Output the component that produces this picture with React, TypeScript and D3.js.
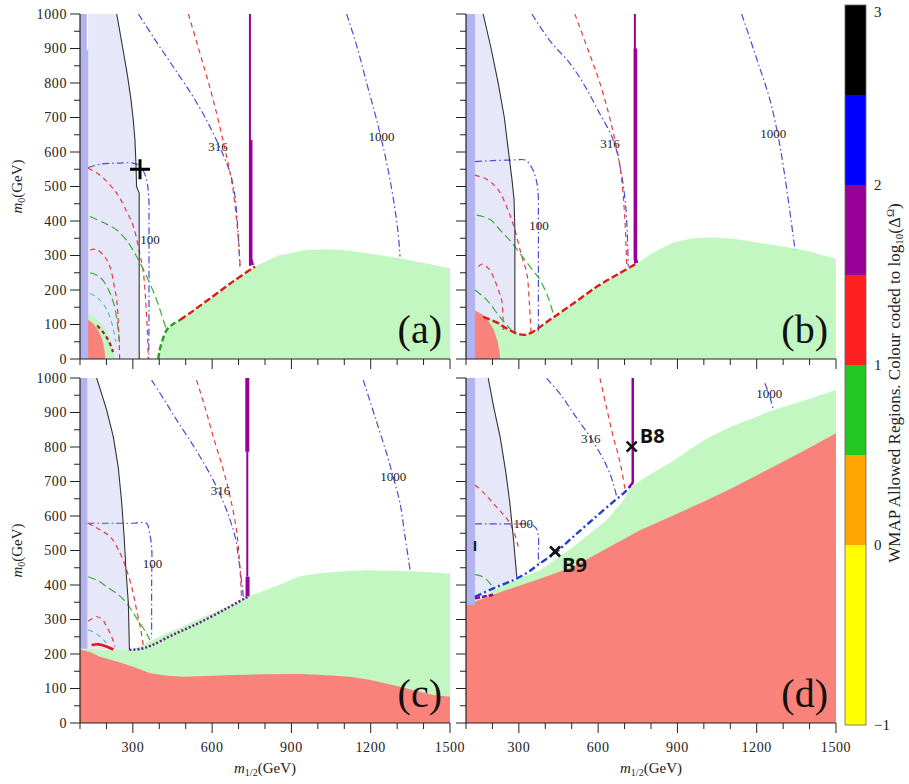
import React from "react";
import * as d3 from "d3";

type Pt = [number, number];

// ---------- axes / ticks ----------
const xDomain: Pt = [100, 1500];
const yDomain: Pt = [0, 1000];
const xTicksMajor = [300, 600, 900, 1200, 1500];
const xTicksMinor = [100, 200, 400, 500, 700, 800, 1000, 1100, 1300, 1400];
const yTicksMajor = [0, 100, 200, 300, 400, 500, 600, 700, 800, 900, 1000];
const yTicksMinor = [50, 150, 250, 350, 450, 550, 650, 750, 850, 950];

// ---------- colour bar ----------
const cbEdges = [-1, 0, 0.5, 1, 1.5, 2, 2.5, 3];
const cbColors = ["#ffff00", "#ffa500", "#22c822", "#ff2020", "#990099", "#0000ff", "#000000"];
const cbTicks = [-1, 0, 1, 2, 3];

// ---------- panel (a) ----------
const aStrip: Pt[] = [[100, 0], [131, 0], [131, 895], [126, 895], [126, 1000], [100, 1000]];
const aBlack: Pt[] = [[239, 1000], [262, 900], [280, 820], [293, 751], [302, 690], [308, 635], [312, 560], [314, 500], [324, 481], [324, 0]];
const aGreen: Pt[] = [[396, 0], [400, 20], [410, 50], [428, 84], [450, 100], [478, 113], [516, 133], [600, 180], [680, 225], [762, 268], [850, 300], [958, 316], [1050, 318], [1122, 314], [1200, 305], [1311, 292], [1400, 278], [1500, 263], [1500, 0]];
const aGreenSmall: Pt[] = [[100, 0], [100, 140], [150, 125], [190, 95], [220, 50], [232, 0]];
const aRed: Pt[] = [[100, 0], [100, 122], [125, 117], [150, 103], [170, 82], [185, 55], [193, 25], [195, 0]];
const aEdgeGreen: Pt[] = [[396, 0], [400, 20], [410, 50], [428, 84], [450, 100], [478, 113]];
const aEdgeRed: Pt[] = [[478, 113], [516, 133], [600, 180], [680, 225], [762, 268]];
const aPurpleThin: Pt[] = [[743, 1000], [743, 270]];
const aPurpleThick: Pt[] = [[746, 635], [746, 290], [752, 272]];
const aC100: Pt[] = [[131, 555], [180, 565], [250, 568], [300, 568], [322, 562], [340, 545], [353, 515], [360, 470], [361, 380], [361, 250], [361, 120], [360, 0]];
const aC316: Pt[] = [[321, 1000], [380, 930], [450, 850], [520, 770], [570, 705], [604, 654], [640, 595], [668, 539], [685, 480], [695, 400], [701, 330], [705, 268]];
const aC1000: Pt[] = [[1109, 1000], [1150, 900], [1185, 799], [1215, 715], [1241, 635], [1268, 540], [1290, 443], [1303, 370], [1311, 297]];
const aR316: Pt[] = [[510, 1000], [560, 870], [604, 751], [645, 620], [675, 510], [693, 400], [702, 320], [706, 268]];
const aRIn: Pt[] = [[131, 553], [180, 530], [239, 480], [275, 430], [302, 384], [325, 310], [340, 248], [350, 150], [356, 60], [358, 0]];
const aGIn: Pt[] = [[138, 413], [190, 395], [239, 374], [280, 340], [314, 297], [355, 235], [390, 171], [410, 125], [428, 84]];
const aRArc: Pt[] = [[138, 316], [160, 318], [190, 300], [213, 268], [230, 210], [239, 171], [246, 90], [250, 0]];
const aGArc: Pt[] = [[138, 250], [175, 238], [205, 205], [228, 160], [242, 100], [250, 40]];
const aCArc: Pt[] = [[138, 190], [170, 175], [200, 145], [222, 100], [235, 50]];
const aDark: Pt[] = [[165, 97], [190, 75], [210, 50], [225, 20]];
const aLabelText = ["100", "316", "1000"];
const aLabelPos: Pt[] = [[365, 345], [622, 615], [1241, 644]];
const aPlus: Pt = [327, 550];

// ---------- panel (b) ----------
const bStrip: Pt[] = [[100, 0], [134, 0], [134, 1000], [100, 1000]];
const bBlack: Pt[] = [[165, 1000], [195, 900], [222, 799], [245, 700], [260, 606], [274, 520], [282, 461], [285, 374], [285, 75]];
const bGreen: Pt[] = [[100, 0], [100, 150], [134, 142], [175, 125], [216, 108], [255, 88], [292, 74], [320, 71], [342, 74], [420, 115], [506, 161], [600, 212], [680, 248], [746, 277], [800, 305], [885, 338], [960, 350], [1049, 352], [1120, 348], [1200, 338], [1300, 326], [1389, 314], [1500, 290], [1500, 0]];
const bRed: Pt[] = [[100, 0], [100, 147], [130, 142], [160, 130], [185, 110], [205, 85], [220, 50], [227, 20], [229, 0]];
const bEdge: Pt[] = [[165, 122], [216, 106], [255, 88], [292, 74], [320, 70], [342, 74], [420, 115], [506, 161], [600, 212], [680, 248], [746, 277]];
const bPurpleThin: Pt[] = [[739, 1000], [739, 277]];
const bPurpleThick: Pt[] = [[741, 900], [741, 290], [746, 278]];
const bC100: Pt[] = [[134, 572], [200, 575], [290, 577], [323, 577], [345, 560], [362, 530], [372, 490], [374, 400], [374, 300], [374, 200], [374, 74]];
const bC316: Pt[] = [[349, 1000], [420, 920], [490, 860], [544, 799], [600, 720], [657, 635], [685, 550], [702, 461], [710, 370], [714, 268]];
const bC1000: Pt[] = [[1143, 1000], [1200, 870], [1250, 751], [1280, 650], [1301, 557], [1325, 430], [1345, 316]];
const bR316: Pt[] = [[512, 1000], [560, 900], [607, 799], [650, 680], [683, 557], [700, 420], [708, 268]];
const bRIn: Pt[] = [[134, 533], [180, 520], [222, 490], [260, 430], [285, 374], [310, 300], [330, 248], [340, 160], [346, 74]];
const bGIn: Pt[] = [[140, 417], [190, 405], [229, 374], [270, 340], [304, 306], [345, 265], [380, 229], [410, 180], [430, 132]];
const bRArc: Pt[] = [[147, 268], [160, 275], [185, 262], [203, 239], [220, 205], [235, 171], [240, 120], [241, 84]];
const bGArc: Pt[] = [[134, 200], [180, 170], [230, 120], [270, 85]];
const bLabelText = ["100", "316", "1000"];
const bLabelPos: Pt[] = [[376, 386], [645, 625], [1263, 654]];

// ---------- panel (c) ----------
const cStrip: Pt[] = [[100, 215], [128, 215], [128, 1000], [100, 1000]];
const cBlack: Pt[] = [[163, 1000], [200, 910], [226, 830], [245, 740], [258, 637], [267, 540], [274, 443], [283, 347], [285, 280], [287, 212]];
const cRed: Pt[] = [[100, 0], [100, 213], [140, 205], [176, 192], [240, 178], [302, 163], [365, 144], [430, 137], [491, 134], [600, 137], [680, 139], [800, 141], [932, 142], [1000, 140], [1122, 134], [1200, 125], [1311, 105], [1400, 88], [1437, 81], [1500, 76], [1500, 0]];
const cGreen: Pt[] = [[100, 0], [100, 215], [200, 212], [302, 214], [360, 235], [428, 260], [490, 280], [554, 303], [650, 335], [737, 367], [800, 385], [869, 405], [930, 425], [996, 433], [1100, 440], [1185, 443], [1280, 441], [1374, 439], [1500, 433], [1500, 0]];
const cPurpleTop: Pt[] = [[733, 1000], [733, 786]];
const cPurpleThin: Pt[] = [[733, 786], [733, 424]];
const cPurpleLow: Pt[] = [[734, 424], [734, 367]];
const cDotted: Pt[] = [[287, 212], [330, 215], [371, 225], [450, 255], [550, 290], [650, 330], [737, 367]];
const cC100: Pt[] = [[128, 579], [200, 579], [300, 579], [352, 579], [362, 555], [371, 511], [371, 400], [371, 300], [371, 247]];
const cC316: Pt[] = [[371, 994], [420, 935], [466, 878], [540, 790], [604, 704], [640, 645], [668, 588], [690, 530], [699, 482], [710, 420], [718, 366]];
const cC1000: Pt[] = [[1172, 994], [1215, 890], [1260, 782], [1290, 700], [1311, 637], [1330, 540], [1349, 443]];
const cR316: Pt[] = [[541, 994], [575, 910], [604, 830], [640, 740], [668, 656], [690, 570], [699, 511], [706, 440], [711, 366]];
const cRIn: Pt[] = [[131, 579], [175, 560], [214, 540], [250, 495], [277, 443], [300, 380], [314, 328], [330, 270], [340, 221]];
const cGIn: Pt[] = [[131, 424], [170, 412], [201, 395], [240, 375], [277, 347], [305, 315], [327, 289], [350, 262], [365, 240]];
const cRArc: Pt[] = [[131, 295], [163, 308], [185, 300], [201, 279], [220, 250], [232, 221]];
const cCArc: Pt[] = [[131, 270], [160, 260], [190, 240], [215, 215]];
const cThickRed: Pt[] = [[144, 226], [170, 228], [200, 222], [226, 213]];
const cLabelText = ["100", "316", "1000"];
const cLabelPos: Pt[] = [[374, 463], [632, 675], [1285, 714]];

// ---------- panel (d) ----------
const dStrip: Pt[] = [[100, 342], [134, 342], [134, 1000], [100, 1000]];
const dBlack: Pt[] = [[184, 1000], [205, 915], [229, 830], [250, 730], [266, 637], [280, 530], [292, 424]];
const dLavenderBase: Pt[] = [[191, 386], [134, 362]];
const dRed: Pt[] = [[100, 0], [100, 342], [180, 365], [254, 386], [380, 418], [506, 453], [630, 505], [758, 559], [880, 600], [1011, 646], [1130, 690], [1263, 743], [1380, 790], [1500, 840], [1500, 0]];
const dGreen: Pt[] = [[100, 0], [100, 347], [180, 375], [254, 405], [320, 425], [380, 443], [440, 475], [506, 511], [570, 550], [632, 588], [690, 640], [733, 690], [800, 722], [885, 760], [950, 795], [1011, 825], [1100, 858], [1200, 888], [1263, 907], [1380, 935], [1500, 965], [1500, 0]];
const dBlueEdge: Pt[] = [[134, 366], [191, 386], [250, 405], [292, 419], [340, 440], [380, 463], [440, 495], [506, 540], [580, 590], [657, 641], [702, 670], [731, 695]];
const dPurple: Pt[] = [[731, 1000], [731, 697], [716, 682]];
const dPurpleLow: Pt[] = [[134, 362], [160, 365], [203, 372]];
const dC100: Pt[] = [[134, 577], [229, 577], [300, 577], [345, 575], [365, 565], [374, 540], [374, 480], [378, 463]];
const dC316: Pt[] = [[405, 999], [460, 950], [506, 898], [560, 840], [607, 782], [635, 740], [657, 695], [670, 656]];
const dC1000: Pt[] = [[1231, 985], [1250, 945], [1263, 907]];
const dR316: Pt[] = [[607, 999], [630, 920], [657, 830], [675, 780], [689, 733], [702, 675]];
const dRIn: Pt[] = [[134, 690], [170, 665], [203, 637], [240, 605], [266, 579], [285, 545], [298, 511]];
const dGArc: Pt[] = [[134, 430], [160, 425], [185, 410], [200, 395]];
const dLabelText = ["100", "316", "1000"];
const dLabelPos: Pt[] = [[317, 579], [572, 825], [1247, 956]];
const dB8: Pt = [727, 801];
const dB9: Pt = [437, 497];
const dI: Pt = [134, 516];

// ---------- styling ----------
const W = 370;
const H = 345;
const SERIF = "'Liberation Serif', 'Times New Roman', 'DejaVu Serif', serif";
const SANS = "'Open Sans', 'DejaVu Sans', sans-serif";
const LAV = "#e7e7fa";
const STRIP = "#b3b3f0";
const GFILL = "#c2f7c2";
const RFILL = "#f9827b";
const BLUE_C = "#4a4ad8";
const RED_D = "#e83a3a";
const GRN_D = "#34b034";
const PURP = "#990099";

type Layer = { pts: Pt[]; fill?: string; stroke?: string; width?: number; dash?: string; smooth?: boolean };
type Marker = { kind: "plus" | "cross"; at: Pt; label?: string; dx?: number; dy?: number };
type PanelCfg = {
  left: number; top: number; tag: string; xLabels: boolean; yLabels: boolean;
  layers: Layer[]; labelText: string[]; labelPos: Pt[]; markers: Marker[]; texts?: { t: string; at: Pt }[];
};

const contour = (pts: Pt[]): Layer => ({ pts, stroke: BLUE_C, width: 1.2, dash: "7,3,1.5,3", smooth: true });
const redDash = (pts: Pt[]): Layer => ({ pts, stroke: RED_D, width: 1.2, dash: "5,4", smooth: true });
const grnDash = (pts: Pt[]): Layer => ({ pts, stroke: GRN_D, width: 1.2, dash: "8,4", smooth: true });
const blackLine = (pts: Pt[]): Layer => ({ pts, stroke: "#333", width: 1.1 });

const panels: PanelCfg[] = [
  {
    left: 80, top: 14, tag: "(a)", xLabels: false, yLabels: true,
    layers: [
      { pts: [[131, 0], [131, 1000], ...aBlack], fill: LAV },
      { pts: aGreen, fill: GFILL },
      { pts: aGreenSmall, fill: GFILL },
      { pts: aRed, fill: RFILL },
      { pts: aStrip, fill: STRIP },
      contour(aC100), contour(aC316), contour(aC1000),
      redDash(aR316), redDash(aRIn), grnDash(aGIn), redDash(aRArc),
      grnDash(aGArc), { pts: aCArc, stroke: "#40c0c0", width: 1.1, dash: "5,4", smooth: true },
      { pts: aDark, stroke: "#a02030", width: 2.2, dash: "4,3", smooth: true },
      blackLine(aBlack),
      { pts: aEdgeGreen, stroke: "#2a9a2a", width: 2.4, dash: "6,3", smooth: true },
      { pts: aEdgeRed, stroke: "#e01818", width: 2.4, dash: "7,3", smooth: true },
      { pts: aPurpleThin, stroke: PURP, width: 2 },
      { pts: aPurpleThick, stroke: PURP, width: 3.5 },
    ],
    labelText: aLabelText, labelPos: aLabelPos,
    markers: [{ kind: "plus", at: aPlus }],
  },
  {
    left: 466, top: 14, tag: "(b)", xLabels: false, yLabels: false,
    layers: [
      { pts: [[134, 140], [134, 1000], ...bBlack], fill: LAV },
      { pts: bGreen, fill: GFILL },
      { pts: bRed, fill: RFILL },
      { pts: bStrip, fill: STRIP },
      contour(bC100), contour(bC316), contour(bC1000),
      redDash(bR316), redDash(bRIn), grnDash(bGIn), redDash(bRArc), grnDash(bGArc),
      blackLine(bBlack),
      { pts: bEdge, stroke: "#e01818", width: 2.4, dash: "7,3", smooth: true },
      { pts: bPurpleThin, stroke: PURP, width: 2 },
      { pts: bPurpleThick, stroke: PURP, width: 3.5 },
    ],
    labelText: bLabelText, labelPos: bLabelPos, markers: [],
  },
  {
    left: 80, top: 378, tag: "(c)", xLabels: true, yLabels: true,
    layers: [
      { pts: [[128, 212], [128, 1000], ...cBlack], fill: LAV },
      { pts: cGreen, fill: GFILL },
      { pts: cRed, fill: RFILL },
      { pts: cStrip, fill: STRIP },
      contour(cC100), contour(cC316), contour(cC1000),
      redDash(cR316), redDash(cRIn), grnDash(cGIn), redDash(cRArc),
      { pts: cCArc, stroke: "#40c0c0", width: 1.1, dash: "5,4", smooth: true },
      { pts: cThickRed, stroke: "#e01818", width: 2.6, smooth: true },
      blackLine(cBlack),
      { pts: cDotted, stroke: "#6a1a8a", width: 2.4, dash: "2,2", smooth: true },
      { pts: cPurpleTop, stroke: PURP, width: 4 },
      { pts: cPurpleThin, stroke: PURP, width: 2 },
      { pts: cPurpleLow, stroke: PURP, width: 4 },
    ],
    labelText: cLabelText, labelPos: cLabelPos, markers: [],
  },
  {
    left: 466, top: 378, tag: "(d)", xLabels: true, yLabels: false,
    layers: [
      { pts: [[134, 342], [134, 1000], ...dBlack, ...dLavenderBase], fill: LAV },
      { pts: dGreen, fill: GFILL },
      { pts: dRed, fill: RFILL },
      { pts: dStrip, fill: STRIP },
      contour(dC100), contour(dC316), contour(dC1000),
      redDash(dR316), redDash(dRIn), grnDash(dGArc),
      blackLine(dBlack),
      { pts: dBlueEdge, stroke: "#2040d0", width: 2.4, dash: "7,3,2,3", smooth: true },
      { pts: dPurple, stroke: PURP, width: 2.5 },
      { pts: dPurpleLow, stroke: PURP, width: 2.6, dash: "5,2", smooth: true },
    ],
    labelText: dLabelText, labelPos: dLabelPos,
    markers: [
      { kind: "cross", at: dB8, label: "B8", dx: 8, dy: -4 },
      { kind: "cross", at: dB9, label: "B9", dx: 7, dy: 20 },
    ],
    texts: [{ t: "I", at: dI }],
  },
];

function Panel({ cfg }: { cfg: PanelCfg }) {
  const x = d3.scaleLinear().domain(xDomain).range([cfg.left, cfg.left + W]);
  const y = d3.scaleLinear().domain(yDomain).range([cfg.top + H, cfg.top]);
  const smooth = d3.line<Pt>().x((d) => x(d[0])).y((d) => y(d[1])).curve(d3.curveCatmullRom.alpha(0.5));
  const linear = d3.line<Pt>().x((d) => x(d[0])).y((d) => y(d[1]));
  const clipId = "clip-" + cfg.tag.replace(/[()]/g, "");
  const bottom = cfg.top + H;
  return (
    <g>
      <defs>
        <clipPath id={clipId}>
          <rect x={cfg.left} y={cfg.top} width={W} height={H} />
        </clipPath>
      </defs>
      <g clipPath={`url(#${clipId})`}>
        {cfg.layers.map((l, i) =>
          l.fill ? (
            <path key={i} d={(linear(l.pts) || "") + "Z"} fill={l.fill} stroke="none" />
          ) : (
            <path key={i} d={(l.smooth ? smooth(l.pts) : linear(l.pts)) || ""} fill="none" stroke={l.stroke}
              strokeWidth={l.width} strokeDasharray={l.dash} strokeLinejoin="round" />
          )
        )}
      </g>
      {cfg.labelText.map((t, i) => (
        <text key={t} x={x(cfg.labelPos[i][0])} y={y(cfg.labelPos[i][1])} textAnchor="middle" dominantBaseline="central"
          style={{ fontFamily: SERIF }} fontSize={13} fill="#222">{t}</text>
      ))}
      {(cfg.texts || []).map((t) => (
        <text key={t.t} x={x(t.at[0])} y={y(t.at[1])} textAnchor="middle" dominantBaseline="central"
          style={{ fontFamily: SANS }} fontWeight="bold" fontSize={15} fill="#222">{t.t}</text>
      ))}
      {cfg.markers.map((m, i) => {
        const px = x(m.at[0]);
        const py = y(m.at[1]);
        if (m.kind === "plus") {
          return (
            <g key={i} stroke="#000" strokeWidth={3}>
              <line x1={px - 10} x2={px + 10} y1={py} y2={py} />
              <line x1={px} x2={px} y1={py - 10} y2={py + 10} />
            </g>
          );
        }
        return (
          <g key={i}>
            <g stroke="#111" strokeWidth={2.6}>
              <line x1={px - 5} x2={px + 5} y1={py - 5} y2={py + 5} />
              <line x1={px - 5} x2={px + 5} y1={py + 5} y2={py - 5} />
            </g>
            <text x={px + (m.dx || 0)} y={py + (m.dy || 0)} style={{ fontFamily: SANS }} fontWeight="bold"
              fontSize={20} fill="#111">{m.label}</text>
          </g>
        );
      })}
      {/* panel tag */}
      <text x={cfg.left + W - 8} y={bottom - 16} textAnchor="end" style={{ fontFamily: SERIF }} fontSize={40} fill="#111">{cfg.tag}</text>
      {/* axes */}
      <line x1={cfg.left} x2={cfg.left} y1={cfg.top} y2={bottom} stroke="#222" strokeWidth={1.2} />
      <line x1={cfg.left} x2={cfg.left + W} y1={bottom} y2={bottom} stroke="#222" strokeWidth={1.2} />
      {yTicksMajor.map((v) => (
        <line key={"ym" + v} x1={cfg.left - 10} x2={cfg.left} y1={y(v)} y2={y(v)} stroke="#222" strokeWidth={1} />
      ))}
      {yTicksMinor.map((v) => (
        <line key={"yn" + v} x1={cfg.left - 6} x2={cfg.left} y1={y(v)} y2={y(v)} stroke="#222" strokeWidth={1} />
      ))}
      {xTicksMajor.map((v) => (
        <line key={"xm" + v} x1={x(v)} x2={x(v)} y1={bottom} y2={bottom + 10} stroke="#222" strokeWidth={1} />
      ))}
      {xTicksMinor.map((v) => (
        <line key={"xn" + v} x1={x(v)} x2={x(v)} y1={bottom} y2={bottom + 6} stroke="#222" strokeWidth={1} />
      ))}
      {cfg.yLabels &&
        yTicksMajor.map((v) => (
          <text key={"yl" + v} x={cfg.left - 13} y={y(v)} textAnchor="end" dominantBaseline="central"
            style={{ fontFamily: SERIF }} fontSize={14} letterSpacing={0.6} fill="#222">{v}</text>
        ))}
      {cfg.xLabels &&
        xTicksMajor.map((v) => (
          <text key={"xl" + v} x={x(v)} y={bottom + 29} textAnchor="middle"
            style={{ fontFamily: SERIF }} fontSize={14} letterSpacing={0.6} fill="#222">{v}</text>
        ))}
      {cfg.yLabels && (
        <text transform={`translate(22,${cfg.top + H / 2}) rotate(-90)`} textAnchor="middle" style={{ fontFamily: SERIF }}
          fontSize={15} fill="#222">
          <tspan fontStyle="italic">m</tspan>
          <tspan fontSize={10} dy={3}>0</tspan>
          <tspan dy={-3}>(GeV)</tspan>
        </text>
      )}
      {cfg.xLabels && (
        <text x={cfg.left + W / 2} y={bottom + 50} textAnchor="middle" style={{ fontFamily: SERIF }} fontSize={15} fill="#222">
          <tspan fontStyle="italic">m</tspan>
          <tspan fontSize={10} dy={3}>1/2</tspan>
          <tspan dy={-3}>(GeV)</tspan>
        </text>
      )}
    </g>
  );
}

function ColorBar() {
  const cy = d3.scaleLinear().domain([-1, 3]).range([725, 5]);
  const x0 = 845;
  const w = 21;
  return (
    <g>
      {cbColors.map((c, i) => (
        <rect key={c} x={x0} y={cy(cbEdges[i + 1])} width={w} height={cy(cbEdges[i]) - cy(cbEdges[i + 1])} fill={c} />
      ))}
      <rect x={x0} y={cy(3)} width={w} height={cy(-1) - cy(3)} fill="none" stroke="#665" strokeWidth={0.8} />
      {cbTicks.map((t) => (
        <text key={t} x={x0 + w + 8} y={Math.max(cy(t), 12)} dominantBaseline="central" style={{ fontFamily: SERIF }} fontSize={15} fill="#222">
          {t < 0 ? "\u2212" + Math.abs(t) : String(t)}
        </text>
      ))}
      <text transform={`translate(900,${cy(0.9)}) rotate(-90)`} textAnchor="middle" style={{ fontFamily: SERIF }} fontSize={17} fill="#222">
        WMAP Allowed Regions.  Colour coded to log
        <tspan fontSize={11} dy={3}>10</tspan>
        <tspan dy={-3}>(Δ</tspan>
        <tspan fontSize={11} dy={-6}>Ω</tspan>
        <tspan dy={6}>)</tspan>
      </text>
    </g>
  );
}

export default function App() {
  return (
    <svg width={909} height={784} style={{ position: "absolute", left: 0, top: 0, background: "#fff", fontFamily: SERIF }}>
      <rect x={0} y={0} width={909} height={784} fill="#fff" />
      {panels.map((p) => (
        <Panel key={p.tag} cfg={p} />
      ))}
      <ColorBar />
    </svg>
  );
}
